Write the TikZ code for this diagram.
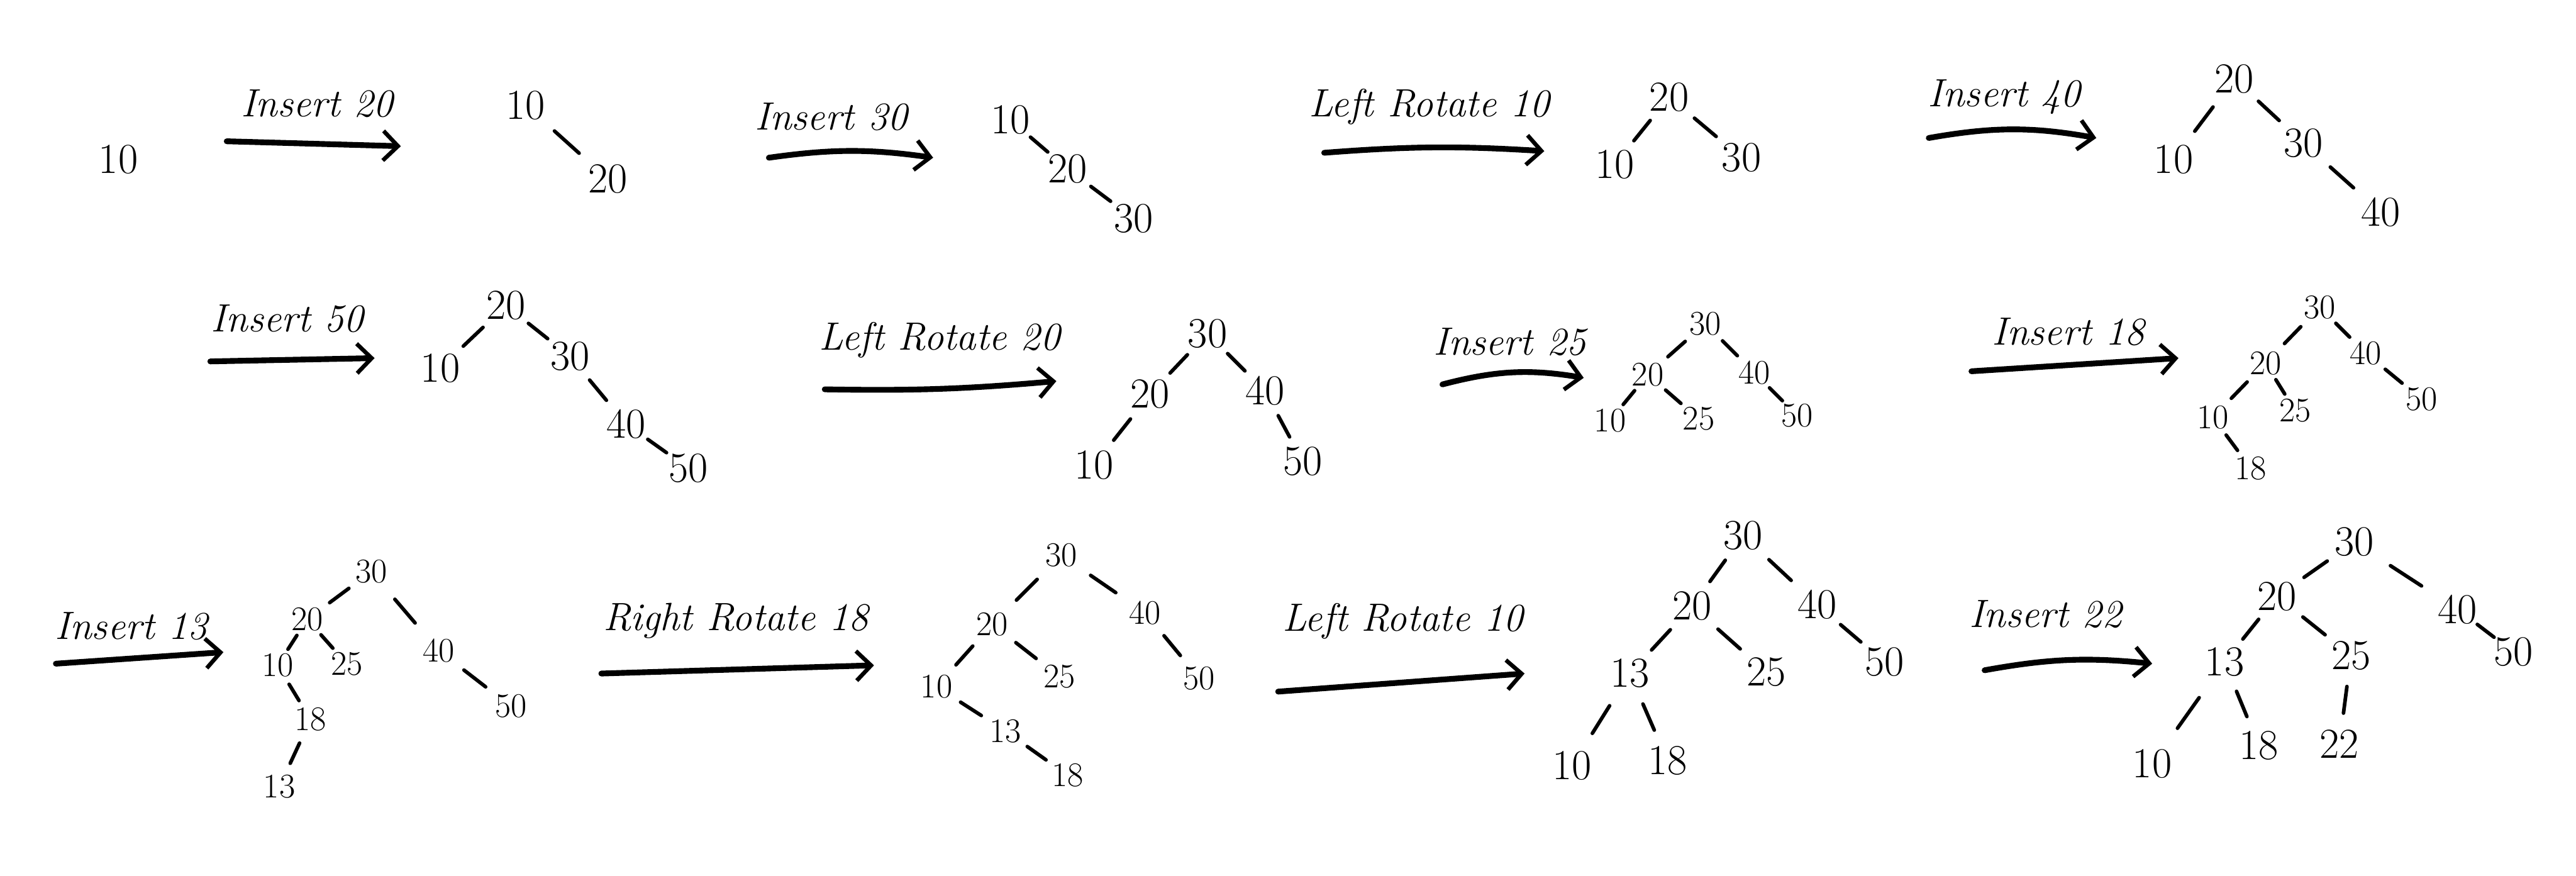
\documentclass[tikz,border=0pt]{standalone}
\usetikzlibrary{arrows.meta,calc}
\newcommand\treeedge[2]{\draw[edge] ($(#1)!0.35!(#2)$) -- ($(#1)!0.65!(#2)$);}
\begin{document}
\begin{tikzpicture}[x=1pt,y=-1pt,
 n/.style={font=\fontsize{26}{26}\selectfont, inner sep=1pt},
 ns/.style={font=\fontsize{21}{21}\selectfont, inner sep=1pt},
 lbl/.style={font=\itshape\fontsize{24}{24}\selectfont, inner sep=1pt},
 flow/.style={line width=3.5pt, -{Straight Barb[length=9pt,width=18pt,line width=2.5pt]}, line cap=round},
 edge/.style={line width=2.2pt, line cap=round}]
\useasboundingbox[fill=white] (0,0) rectangle (1568,533);

% ---------- Row 1 ----------
\node[n] (A10) at (72,97) {10};

\node[lbl] (lB) at (193,63) {Insert 20};
\coordinate (aBs) at (138,86); \coordinate (aBe) at (244,89);
\draw[flow] (aBs) -- (aBe);
\node[n] (B10) at (320,64) {10};
\node[n] (B20) at (370,109) {20};
\treeedge{B10}{B20}

\node[lbl] (lC) at (506,71) {Insert 30};
\coordinate (aCs) at (468,96); \coordinate (aCe) at (568,96);
\draw[flow] (aCs) to[bend left=8] (aCe);
\node[n] (C10) at (615,73) {10};
\node[n] (C20) at (650,103) {20};
\node[n] (C30) at (690,133) {30};
\treeedge{C10}{C20}
\treeedge{C20}{C30}

\node[lbl] (lD) at (870,65) {Left Rotate 10};
\coordinate (aDs) at (806,93); \coordinate (aDe) at (940,92);
\draw[flow] (aDs) to[bend left=4] (aDe);
\node[n] (D20) at (1016,59) {20};
\node[n] (D10) at (983,100) {10};
\node[n] (D30) at (1060,96) {30};
\treeedge{D20}{D10}
\treeedge{D20}{D30}

\node[lbl] (lE) at (1220,59) {Insert 40};
\coordinate (aEs) at (1174,84); \coordinate (aEe) at (1276,84);
\draw[flow] (aEs) to[bend left=10] (aEe);
\node[n] (E20) at (1360,48) {20};
\node[n] (E10) at (1323,97) {10};
\node[n] (E30) at (1402,87) {30};
\node[n] (E40) at (1449,129) {40};
\treeedge{E20}{E10}
\treeedge{E20}{E30}
\treeedge{E30}{E40}

% ---------- Row 2 ----------
\node[lbl] (lF) at (175,194) {Insert 50};
\coordinate (aFs) at (128,220); \coordinate (aFe) at (228,218);
\draw[flow] (aFs) -- (aFe);
\node[n] (F20) at (308,186) {20};
\node[n] (F10) at (268,224) {10};
\node[n] (F30) at (347,217) {30};
\node[n] (F40) at (381,258) {40};
\node[n] (F50) at (419,285) {50};
\treeedge{F20}{F10}
\treeedge{F20}{F30}
\treeedge{F30}{F40}
\treeedge{F40}{F50}

\node[lbl] (lG) at (572,207) {Left Rotate 20};
\coordinate (aGs) at (502,237); \coordinate (aGe) at (643,232);
\draw[flow] (aGs) to[bend right=3] (aGe);
\node[n] (G30) at (735,203) {30};
\node[n] (G20) at (700,240) {20};
\node[n] (G40) at (770,238) {40};
\node[n] (G10) at (666,283) {10};
\node[n] (G50) at (793,281) {50};
\treeedge{G30}{G20}
\treeedge{G30}{G40}
\treeedge{G20}{G10}
\treeedge{G40}{G50}

\node[lbl] (lH) at (919,208) {Insert 25};
\coordinate (aHs) at (878,234); \coordinate (aHe) at (964,230);
\draw[flow] (aHs) to[bend left=12] (aHe);
\node[ns] (H30) at (1038,197) {30};
\node[ns] (H20) at (1003,228) {20};
\node[ns] (H40) at (1068,227) {40};
\node[ns] (H10) at (980,256) {10};
\node[ns] (H25) at (1034,255) {25};
\node[ns] (H50) at (1094,253) {50};
\treeedge{H30}{H20}
\treeedge{H30}{H40}
\treeedge{H20}{H10}
\treeedge{H20}{H25}
\treeedge{H40}{H50}

\node[lbl] (lI) at (1259,202) {Insert 18};
\coordinate (aIs) at (1200,226); \coordinate (aIe) at (1326,218);
\draw[flow] (aIs) -- (aIe);
\node[ns] (I30) at (1412,187) {30};
\node[ns] (I20) at (1379,221) {20};
\node[ns] (I40) at (1440,215) {40};
\node[ns] (I10) at (1347,254) {10};
\node[ns] (I25) at (1397,250) {25};
\node[ns] (I50) at (1474,243) {50};
\node[ns] (I18) at (1370,285) {18};
\treeedge{I30}{I20}
\treeedge{I30}{I40}
\treeedge{I20}{I10}
\treeedge{I20}{I25}
\treeedge{I40}{I50}
\treeedge{I10}{I18}

% ---------- Row 3 ----------
\node[lbl] (lJ) at (80,381) {Insert 13};
\coordinate (aJs) at (34,404); \coordinate (aJe) at (136,397);
\draw[flow] (aJs) -- (aJe);
\node[ns] (J30) at (226,348) {30};
\node[ns] (J20) at (187,377) {20};
\node[ns] (J10) at (169,405) {10};
\node[ns] (J25) at (211,404) {25};
\node[ns] (J40) at (267,396) {40};
\node[ns] (J50) at (311,430) {50};
\node[ns] (J18) at (189,438) {18};
\node[ns] (J13) at (170,479) {13};
\treeedge{J30}{J20}
\treeedge{J30}{J40}
\treeedge{J20}{J10}
\treeedge{J20}{J25}
\treeedge{J40}{J50}
\treeedge{J10}{J18}
\treeedge{J18}{J13}

\node[lbl] (lK) at (448,378) {Right Rotate 18};
\coordinate (aKs) at (366,410); \coordinate (aKe) at (532,405);
\draw[flow] (aKs) -- (aKe);
\node[ns] (K30) at (646,338) {30};
\node[ns] (K20) at (604,380) {20};
\node[ns] (K40) at (697,373) {40};
\node[ns] (K10) at (570,418) {10};
\node[ns] (K25) at (645,412) {25};
\node[ns] (K50) at (730,413) {50};
\node[ns] (K13) at (612,445) {13};
\node[ns] (K18) at (650,472) {18};
\treeedge{K30}{K20}
\treeedge{K30}{K40}
\treeedge{K20}{K10}
\treeedge{K20}{K25}
\treeedge{K40}{K50}
\treeedge{K10}{K13}
\treeedge{K13}{K18}

\node[lbl] (lL) at (854,378) {Left Rotate 10};
\coordinate (aLs) at (778,421); \coordinate (aLe) at (928,410);
\draw[flow] (aLs) -- (aLe);
\node[n] (L30) at (1061,326) {30};
\node[n] (L20) at (1030,369) {20};
\node[n] (L40) at (1106,368) {40};
\node[n] (L13) at (992,410) {13};
\node[n] (L25) at (1075,409) {25};
\node[n] (L50) at (1147,403) {50};
\node[n] (L10) at (957,466) {10};
\node[n] (L18) at (1015,463) {18};
\treeedge{L30}{L20}
\treeedge{L30}{L40}
\treeedge{L20}{L13}
\treeedge{L20}{L25}
\treeedge{L40}{L50}
\treeedge{L13}{L10}
\treeedge{L13}{L18}

\node[lbl] (lM) at (1245,374) {Insert 22};
\coordinate (aMs) at (1208,408); \coordinate (aMe) at (1310,404);
\draw[flow] (aMs) to[bend left=8] (aMe);
\node[n] (M30) at (1433,330) {30};
\node[n] (M20) at (1386,363) {20};
\node[n] (M40) at (1496,371) {40};
\node[n] (M13) at (1354,403) {13};
\node[n] (M25) at (1431,399) {25};
\node[n] (M50) at (1530,397) {50};
\node[n] (M10) at (1310,465) {10};
\node[n] (M18) at (1375,454) {18};
\node[n] (M22) at (1424,453) {22};
\treeedge{M30}{M20}
\treeedge{M30}{M40}
\treeedge{M20}{M13}
\treeedge{M20}{M25}
\treeedge{M40}{M50}
\treeedge{M13}{M10}
\treeedge{M13}{M18}
\treeedge{M25}{M22}
\end{tikzpicture}
\end{document}
